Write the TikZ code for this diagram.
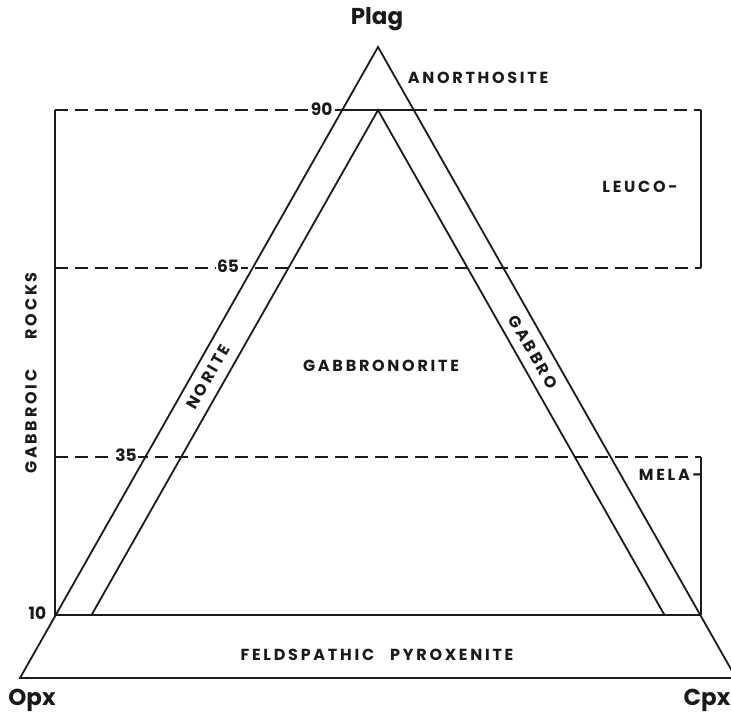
\documentclass[tikz,border=0pt]{standalone}
\usepackage{fontspec}
\setmainfont{Poppins}
\newfontfamily\lblfont{Poppins}[LetterSpace=17]
\usetikzlibrary{calc}
\definecolor{INK}{HTML}{1A1A1A}

\begin{document}
\begin{tikzpicture}[x=1pt,y=-1pt]
\tikzset{edge/.style={line width=1.8pt,INK},dsh/.style={line width=1.5pt,INK,dash pattern=on 13pt off 7pt},
 lbl/.style={font=\lblfont\bfseries\fontsize{16}{18}\selectfont,INK,inner sep=1pt},
 num/.style={font=\bfseries\fontsize{17}{19}\selectfont,INK,fill=white,inner sep=1.5pt},
 corner/.style={font=\bfseries\fontsize{23}{25}\selectfont,INK}}
\useasboundingbox (0,0) rectangle (731,717);
\clip (0,0) rectangle (731,717);
\coordinate (plag) at (378,47);
\coordinate (opx) at (20,678);
\coordinate (cpx) at (736,678);
\coordinate (bl) at (55,0);
\coordinate (br) at (701,0);
% levels on the two outer sides
\foreach \p/\n in {0.1/10,0.35/35,0.65/65,0.9/90}{
  \coordinate (L\n) at ($(opx)!\p!(plag)$);
  \coordinate (R\n) at ($(cpx)!\p!(plag)$);}
\coordinate (iplag) at ($(L90)!0.5!(R90)$);
\coordinate (iopx) at ($(iplag)+0.8*(-358,631)$);
\coordinate (icpx) at ($(iplag)+0.8*(358,631)$);
% dashed levels
\draw[dsh] (bl |- L90) -- (L90);
\draw[dsh] (R90) -- (br |- R90);
\draw[dsh] (bl |- L65) -- (br |- L65);
\draw[dsh] (bl |- L35) -- (br |- L35);
% frame of the gabbroic rocks
\draw[edge] (bl |- L90) -- (bl |- L10) -- (R10);
\draw[edge] (br |- R90) -- (br |- R65);
\draw[edge] (br |- R35) -- (br |- R10);
% triangles
\draw[edge] (plag) -- (opx) -- (cpx) -- cycle;
\draw[edge] (L90) -- (R90);
\draw[edge] (iopx) -- (iplag) -- (icpx);
% numbers
\node[num,anchor=east] (n90) at ($(L90)+(-8,-1)$) {90};
\node[num,anchor=east] (n65) at ($(L65)+(-12,-2)$) {65};
\node[num,anchor=east] (n35) at ($(L35)+(-7,-2)$) {35};
\node[num,anchor=east] (n10) at ($(L10)+(-8,-2)$) {10};
% corners
\node[corner] (plagl) at (377,19) {Plag};
\node[corner] (opxl) at (32,700) {Opx};
\node[corner] (cpxl) at (707,700) {Cpx};
% fields
\node[lbl] (anor) at (478,78) {ANORTHOSITE};
\node[lbl] (leuco) at (640,187) {LEUCO-};
\node[lbl,anchor=east] (mela) at (703,475) {MELA-};
\node[lbl] (gbn) at (381,366) {GABBRONORITE};
\node[lbl,rotate=60.4] (nor) at (208,377) {NORITE};
\node[lbl,rotate=-60.4] (gab) at (533,352) {GABBRO};
\node[lbl] (fpyx) at (377,655) {FELDSPATHIC\quad PYROXENITE};
\node[lbl,rotate=90] (grocks) at (31,373) {GABBROIC\hspace{1.9em}ROCKS};
\end{tikzpicture}
\end{document}
